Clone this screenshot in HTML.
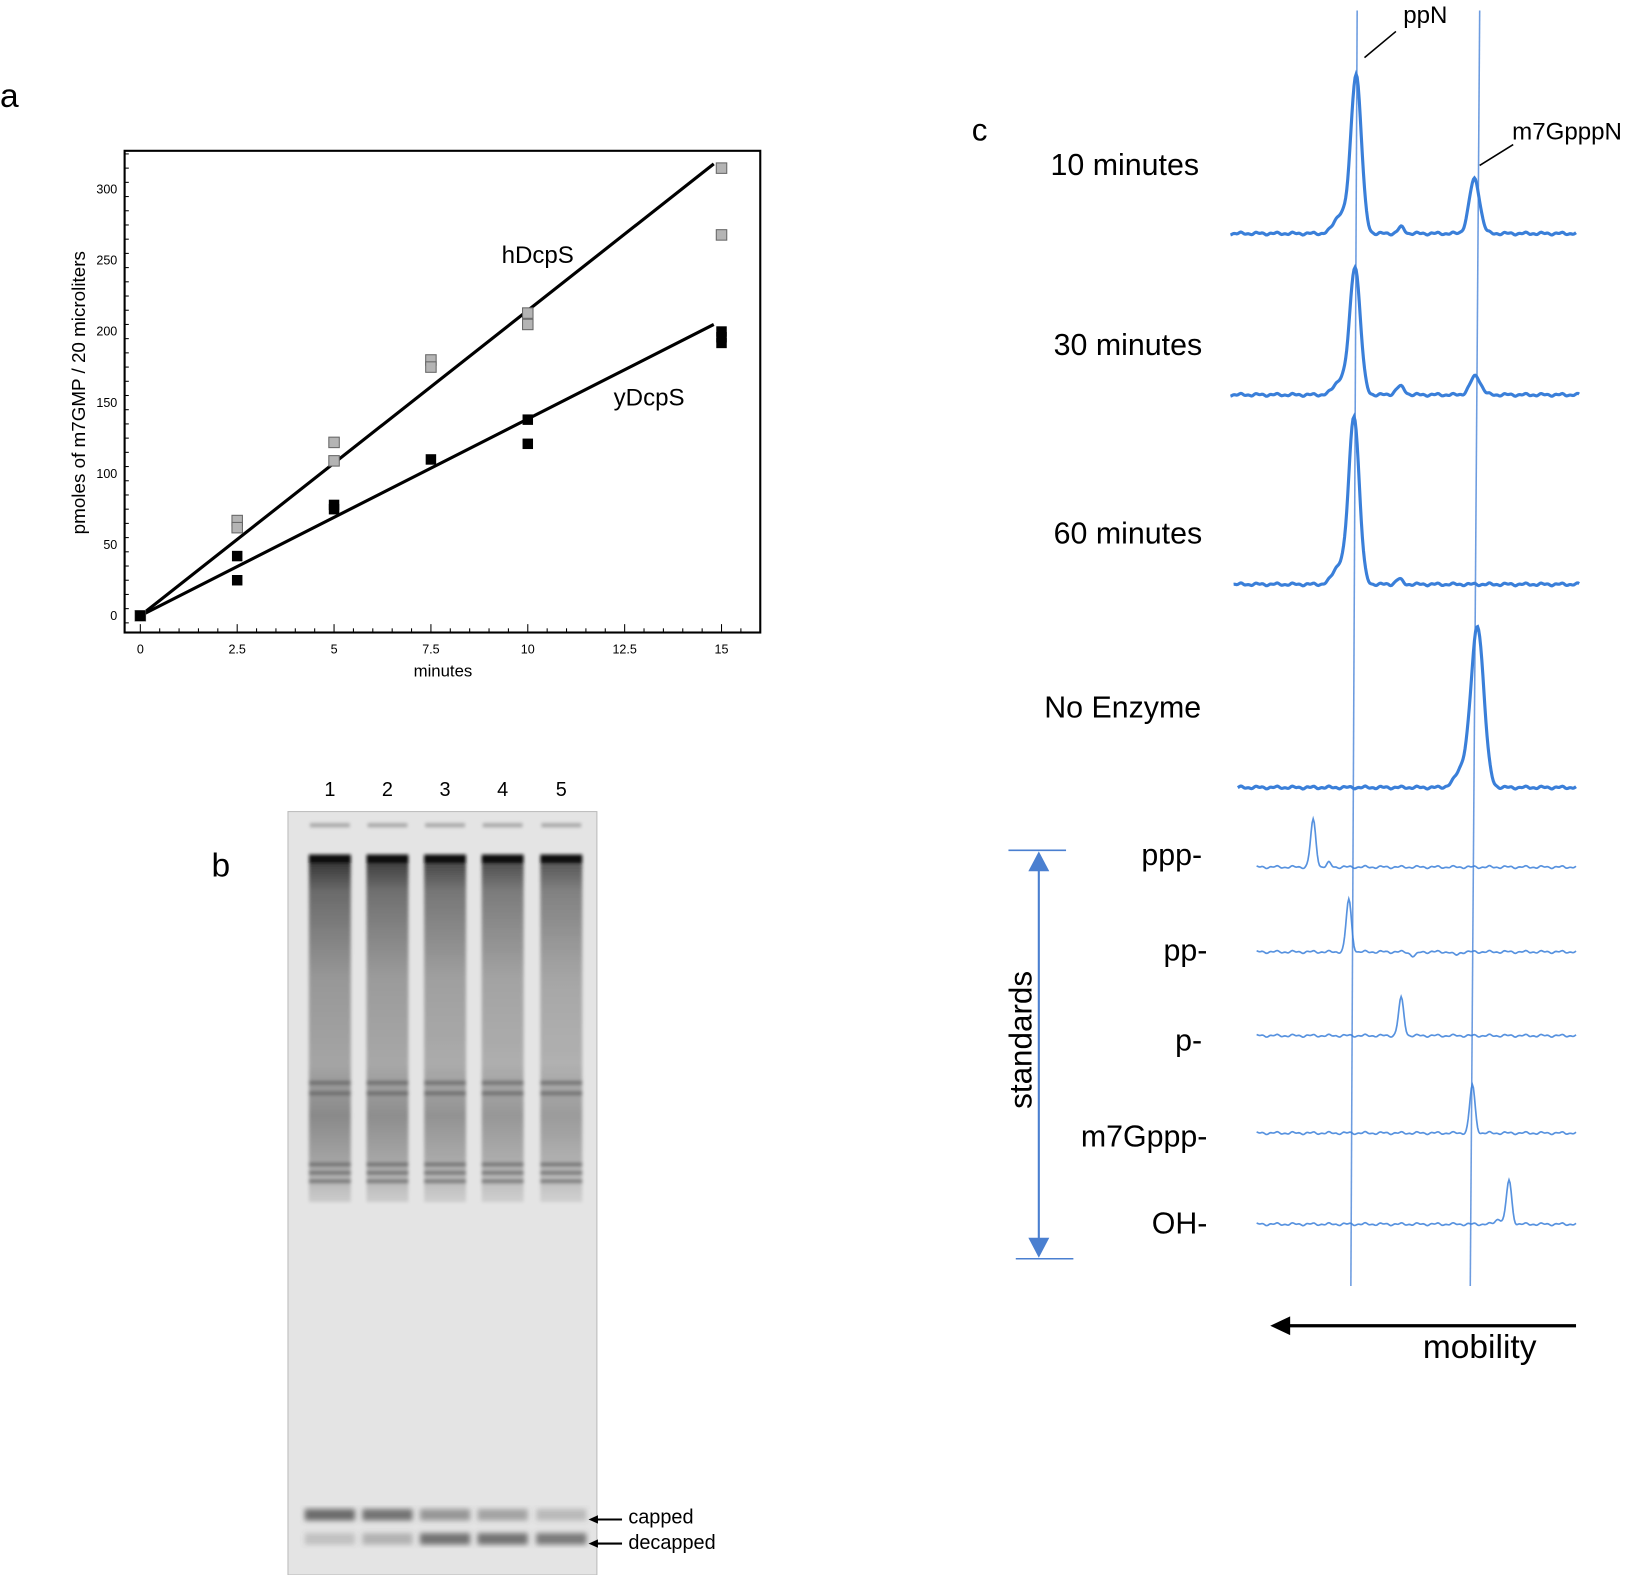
<!DOCTYPE html>
<html><head><meta charset="utf-8"><style>
html,body{margin:0;padding:0;background:#fff;}
svg{display:block;}
text{font-family:"Liberation Sans",sans-serif;}
</style></head><body>
<svg id="fig" xmlns="http://www.w3.org/2000/svg" width="1642" height="1575" viewBox="0 0 1568 1504">
<defs>
<linearGradient id="laneGrad" x1="0" y1="0" x2="0" y2="1">
<stop offset="0" stop-color="#111"/>
<stop offset="0.03" stop-color="#222"/>
<stop offset="0.1" stop-color="#555"/>
<stop offset="0.35" stop-color="#8a8a8a"/>
<stop offset="0.6" stop-color="#9a9a9a"/>
<stop offset="0.75" stop-color="#7a7a7a"/>
<stop offset="0.88" stop-color="#999"/>
<stop offset="1" stop-color="#c8c8c8"/>
</linearGradient>
<filter id="blur"><feGaussianBlur stdDeviation="1.5"/></filter>
<filter id="blur2"><feGaussianBlur stdDeviation="2.5"/></filter>
</defs>
<text x="0" y="102" font-size="32">a</text>
<g id="panelA"></g>
<text x="202" y="837" font-size="32">b</text>
<g id="panelB"></g>
<text x="928" y="134" font-size="30">c</text>
<g id="panelC"></g>
</svg>
<script>
// ---- Panel a data ----
const xTicks = [0, 2.5, 5, 7.5, 10, 12.5, 15];
const yTicks = [0, 50, 100, 150, 200, 250, 300];
const hTimes = [0, 2.5, 2.5, 5, 5, 7.5, 7.5, 10, 10, 15, 15];
const hValues = [0, 67, 62, 122, 109, 180, 175, 213, 205, 315, 268];
const yTimes = [0, 2.5, 2.5, 5, 5, 7.5, 10, 10, 15, 15, 15];
const yValues = [0, 42, 25, 78, 75, 110, 138, 121, 200, 192, 196];
const hFit = [[0, 0], [14.8, 318]];
const yFit = [[0, 0], [14.8, 205]];

// ---- Panel c data: [position, height, width] peaks per trace ----
const traceNames = ["10 minutes", "30 minutes", "60 minutes", "No Enzyme", "ppp-", "pp-", "p-", "m7Gppp-", "OH-"];
const tracePeaks = [
  [[1295, 152, 5], [1280, 18, 6], [1338, 6, 3], [1408, 52, 5]],
  [[1294, 122, 5], [1280, 14, 6], [1337, 8, 4], [1409, 18, 5]],
  [[1293, 160, 5], [1279, 18, 6], [1336, 5, 3]],
  [[1411, 152, 6], [1397, 18, 7]],
  [[1254, 45, 2.5], [1269, 4, 2]],
  [[1288, 50, 2.5], [1350, -4, 3], [1390, -3, 3]],
  [[1338, 36, 2.5]],
  [[1406, 46, 2.5]],
  [[1441, 42, 2.5], [1431, 5, 3]]
];

const svg = document.getElementById('fig');
const NS = 'http://www.w3.org/2000/svg';
function mk(tag, attrs, parent) {
  const e = document.createElementNS(NS, tag);
  for (const k in attrs) e.setAttribute(k, attrs[k]);
  parent.appendChild(e);
  return e;
}

// ===== Panel A =====
const A = document.getElementById('panelA');
const ax = v => 134 + v * 37;
const ay = v => 588 - v * 1.357;
let el;
el = mk('rect', {x: 119, y: 144, width: 607, height: 460, fill: 'none', stroke: '#000', 'stroke-width': 2}, A);


for (let v = 0; v <= 15.5; v += 0.5) {
  const major = Math.abs(v / 2.5 - Math.round(v / 2.5)) < 1e-6;
  el = mk('line', {x1: ax(v), x2: ax(v), y1: 604, y2: major ? 596 : 600, stroke: '#000', 'stroke-width': 1}, A);
  
  
}
for (let v = -5; v <= 325; v += 10) {
  const major = v % 50 === 0;
  el = mk('line', {x1: 119, x2: major ? 127 : 123, y1: ay(v), y2: ay(v), stroke: '#000', 'stroke-width': 1}, A);
  
  
}
xTicks.forEach(v => {
  el = mk('text', {x: ax(v), y: 624, 'font-size': 12, 'text-anchor': 'middle'}, A);
  el.textContent = v;
  
  
});
yTicks.forEach(v => {
  el = mk('text', {x: 112, y: ay(v) + 4, 'font-size': 12, 'text-anchor': 'end'}, A);
  el.textContent = v;
  
  
});
el = mk('text', {x: 423, y: 646, 'font-size': 16, 'text-anchor': 'middle'}, A);
el.textContent = 'minutes';


el = mk('text', {x: 0, y: 0, 'font-size': 18, 'text-anchor': 'middle', transform: 'translate(81,375) rotate(-90)'}, A);
el.textContent = 'pmoles  of m7GMP / 20 microliters';


[[hFit, 'hdcps-fit-line'], [yFit, 'ydcps-fit-line']].forEach(([f, n]) => {
  el = mk('line', {x1: ax(f[0][0]), y1: ay(f[0][1]), x2: ax(f[1][0]), y2: ay(f[1][1]), stroke: '#000', 'stroke-width': 3}, A);
  
  
});
hTimes.forEach((t, i) => {
  el = mk('rect', {x: ax(t) - 5, y: ay(hValues[i]) - 5, width: 10, height: 10, fill: '#b4b4b4', stroke: '#666', 'stroke-width': 1}, A);
  
  
});
yTimes.forEach((t, i) => {
  el = mk('rect', {x: ax(t) - 5, y: ay(yValues[i]) - 5, width: 10, height: 10, fill: '#000'}, A);
  
  
});
el = mk('text', {x: 479, y: 251, 'font-size': 23}, A);
el.textContent = 'hDcpS';


el = mk('text', {x: 586, y: 387, 'font-size': 23}, A);
el.textContent = 'yDcpS';



// ===== Panel B =====
const B = document.getElementById('panelB');
const laneX = [315, 370, 425, 480, 536];
const cappedI = [0.85, 0.8, 0.55, 0.45, 0.3];
const decapI = [0.25, 0.35, 0.8, 0.8, 0.75];
el = mk('rect', {x: 275, y: 775, width: 295, height: 729, fill: '#e4e4e4', stroke: '#bbb', 'stroke-width': 1}, B);


laneX.forEach((cx, i) => {
  el = mk('text', {x: cx, y: 760, 'font-size': 19, 'text-anchor': 'middle'}, B);
  el.textContent = i + 1;
  
  
  const g = mk('g', {filter: 'url(#blur)'}, B);
  
  
  mk('rect', {x: cx - 19, y: 786, width: 38, height: 4, fill: '#aaa'}, g);
  mk('rect', {x: cx - 20, y: 818, width: 40, height: 330, fill: 'url(#laneGrad)', opacity: 0.85 - i * 0.04}, g);
  mk('rect', {x: cx - 20, y: 816, width: 40, height: 8, fill: '#111'}, g);
  [1032, 1042, 1110, 1118, 1126].forEach(by => mk('rect', {x: cx - 20, y: by, width: 40, height: 4, fill: '#555', opacity: 0.6}, g));
  const g2 = mk('g', {filter: 'url(#blur2)'}, B);
  
  
  mk('rect', {x: cx - 24, y: 1441, width: 48, height: 11, fill: '#555', opacity: cappedI[i]}, g2);
  mk('rect', {x: cx - 24, y: 1464, width: 48, height: 11, fill: '#555', opacity: decapI[i]}, g2);
});
[['capped', 1451, 1455], ['decapped', 1474, 1479]].forEach(([t, ly, ty]) => {
  el = mk('line', {x1: 594, y1: ly, x2: 568, y2: ly, stroke: '#000', 'stroke-width': 2}, B);
  
  
  el = mk('polygon', {points: `562,${ly} 571,${ly - 4} 571,${ly + 4}`, fill: '#000'}, B);
  
  
  el = mk('text', {x: 600, y: ty, 'font-size': 19}, B);
  el.textContent = t;
  
  
});

// ===== Panel C =====
const C = document.getElementById('panelC');
const blue = '#3a7fd9';
el = mk('line', {x1: 1296, y1: 10, x2: 1290, y2: 1228, stroke: '#6d9ce0', 'stroke-width': 1.5}, C);


el = mk('line', {x1: 1413, y1: 10, x2: 1404, y2: 1228, stroke: '#6d9ce0', 'stroke-width': 1.5}, C);


const baseY = [223, 377, 558, 752, 828, 909, 989, 1082, 1169];
const xStart = [1175, 1175, 1178, 1182, 1200, 1200, 1200, 1200, 1200];
const xEnd = [1505, 1508, 1508, 1505, 1505, 1505, 1505, 1505, 1505];
const labelY = [167, 339, 519, 685, 826, 917, 1003, 1095, 1178];
const labelX = [1145, 1148, 1148, 1147, 1148, 1153, 1148, 1153, 1153];
const labelSize = [29, 29, 29, 29, 29, 29, 29, 29, 29];
traceNames.forEach((name, i) => {
  let d = '';
  for (let x = xStart[i]; x <= xEnd[i]; x += 1) {
    let y = baseY[i];
    tracePeaks[i].forEach(([p, h, w]) => { y -= h * Math.exp(-((x - p) ** 2) / (2 * w * w)); });
    y += Math.sin(x * 0.9) * 0.6 + Math.sin(x * 0.37) * 0.8;
    d += (d ? 'L' : 'M') + x + ',' + y.toFixed(1);
  }
  el = mk('path', {d: d, fill: 'none', stroke: blue, 'stroke-width': i < 4 ? 3 : 1.6, opacity: i < 4 ? 1 : 0.85}, C);
  
  
  el = mk('text', {x: labelX[i], y: labelY[i], 'font-size': labelSize[i], 'text-anchor': 'end', fill: '#000'}, C);
  el.textContent = name;
  
  
});
el = mk('text', {x: 1340, y: 22, 'font-size': 23}, C);
el.textContent = 'ppN';


el = mk('line', {x1: 1303, y1: 55, x2: 1333, y2: 30, stroke: '#000', 'stroke-width': 1.5}, C);


el = mk('text', {x: 1444, y: 133, 'font-size': 23}, C);
el.textContent = 'm7GpppN';


el = mk('line', {x1: 1413, y1: 158, x2: 1445, y2: 138, stroke: '#000', 'stroke-width': 1.5}, C);


// standards bracket
el = mk('line', {x1: 992, y1: 825, x2: 992, y2: 1190, stroke: '#4a7fd0', 'stroke-width': 2}, C);


el = mk('line', {x1: 963, y1: 812, x2: 1018, y2: 812, stroke: '#4a7fd0', 'stroke-width': 1.5}, C);


el = mk('line', {x1: 970, y1: 1202, x2: 1025, y2: 1202, stroke: '#4a7fd0', 'stroke-width': 1.5}, C);


el = mk('polygon', {points: '992,813 982,832 1002,832', fill: '#4a7fd0'}, C);


el = mk('polygon', {points: '992,1201 982,1182 1002,1182', fill: '#4a7fd0'}, C);


el = mk('text', {x: 0, y: 0, 'font-size': 30, 'text-anchor': 'middle', transform: 'translate(985,993) rotate(-90)'}, C);
el.textContent = 'standards';


// mobility arrow
el = mk('line', {x1: 1228, y1: 1266, x2: 1505, y2: 1266, stroke: '#000', 'stroke-width': 3}, C);


el = mk('polygon', {points: '1213,1266 1232,1257 1232,1275', fill: '#000'}, C);


el = mk('text', {x: 1413, y: 1297, 'font-size': 32, 'text-anchor': 'middle'}, C);
el.textContent = 'mobility';


</script>
</body></html>
